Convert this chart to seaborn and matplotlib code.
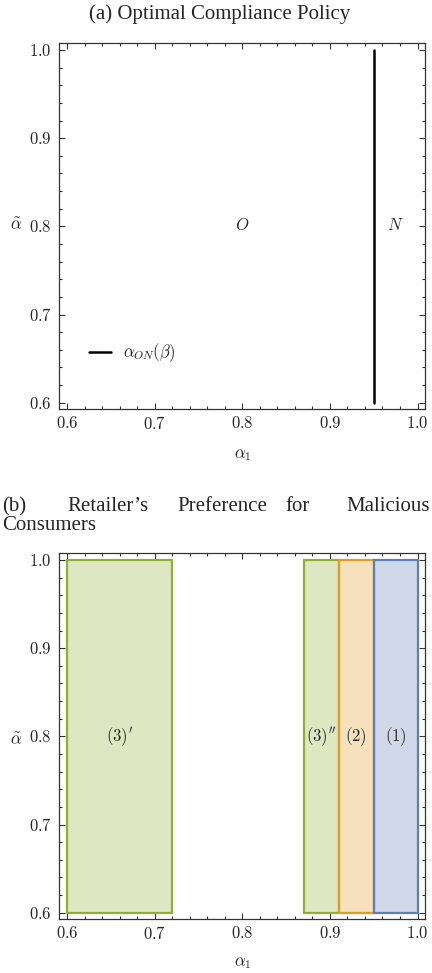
import matplotlib
matplotlib.use("Agg")
import matplotlib.pyplot as plt
import seaborn as sns
import pandas as pd
import numpy as np
from matplotlib.ticker import MultipleLocator, FuncFormatter

# ---- data ----
threshold_x = [0.95, 0.95]
threshold_y = [0.6, 1.0]
region_labels_a = ["$O$", "$N$"]
region_label_x_a = [0.80, 0.975]

rect_labels = ["$(3)'$", "$(3)''$", "$(2)$", "$(1)$"]
rect_left = [0.60, 0.87, 0.91, 0.95]
rect_right = [0.72, 0.91, 0.95, 1.00]
rect_bottom = [0.6, 0.6, 0.6, 0.6]
rect_top = [1.0, 1.0, 1.0, 1.0]
rect_group = ["green", "green", "orange", "blue"]
label_y = 0.8

xticks = [0.6, 0.7, 0.8, 0.9, 1.0]
yticks = [0.6, 0.7, 0.8, 0.9, 1.0]

sns.set_theme(style="ticks")
plt.rcParams["font.family"] = ["Liberation Serif", "DejaVu Serif"]
plt.rcParams["mathtext.fontset"] = "cm"

edge_cols = {"green": "#8FB032", "orange": "#E19C24", "blue": "#5E81B5"}

W, H = 432, 973
fig = plt.figure(figsize=(W / 100, H / 100), dpi=100)


def px_axes(left, top, right, bottom):
    return fig.add_axes([left / W, 1 - bottom / H, (right - left) / W, (bottom - top) / H])


def style_axes(ax, ylo, yhi):
    ax.set_xlim(0.5909, 1.0085)
    ax.set_ylim(ylo, yhi)
    ax.set_xticks(xticks)
    ax.set_yticks(yticks)
    ax.xaxis.set_minor_locator(MultipleLocator(0.02))
    ax.yaxis.set_minor_locator(MultipleLocator(0.02))
    fmt = FuncFormatter(lambda v, p: "$%.1f$" % v)
    ax.xaxis.set_major_formatter(fmt)
    ax.yaxis.set_major_formatter(fmt)
    ax.tick_params(which="both", direction="in", top=True, right=True,
                   labeltop=False, labelright=False, color="#333333", width=0.8)
    ax.tick_params(which="major", length=4.5, labelsize=12, pad=5)
    ax.tick_params(which="minor", length=2.5)
    for s in ax.spines.values():
        s.set_visible(True)
        s.set_linewidth(0.9)
        s.set_color("#333333")
    ax.set_xlabel("")
    ax.set_ylabel("")


# ---- panel (a) ----
ax1 = px_axes(59, 43, 425, 409)
df_line = pd.DataFrame({"x": threshold_x, "y": threshold_y})
sns.lineplot(data=df_line, x="x", y="y", ax=ax1, color="black", linewidth=1.8,
             sort=False, estimator=None, label=r"$\alpha_{ON}(\beta)$")
style_axes(ax1, 0.5928, 1.008)
for lab, xv in zip(region_labels_a, region_label_x_a):
    ax1.text(xv, 0.8, lab, ha="center", va="center", fontsize=12)
leg = ax1.legend(loc="center left", bbox_to_anchor=(0.082, 0.153), frameon=False,
                 fontsize=12, handlelength=1.3, handletextpad=0.75, borderpad=0,
                 borderaxespad=0)

fig.text(220 / W, 1 - 14 / H, "(a) Optimal Compliance Policy", ha="center",
         va="center", fontsize=15)
fig.text(16 / W, 1 - 226 / H, r"$\tilde{\alpha}$", ha="center", va="center", fontsize=12)
fig.text(243 / W, 1 - 455 / H, r"$\alpha_1$", ha="center", va="center", fontsize=12)

# ---- panel (b) ----
ax2 = px_axes(59, 553, 425, 919)
df_rect = pd.DataFrame({"left": rect_left, "right": rect_right,
                        "bottom": rect_bottom, "top": rect_top, "group": rect_group})
for _, r in df_rect.iterrows():
    ec = edge_cols[r["group"]]
    ax2.bar(r["left"], r["top"] - r["bottom"], width=r["right"] - r["left"],
            bottom=r["bottom"], align="edge", color=ec, alpha=0.3, linewidth=0, zorder=2)
    ax2.bar(r["left"], r["top"] - r["bottom"], width=r["right"] - r["left"],
            bottom=r["bottom"], align="edge", fill=False, edgecolor=ec,
            linewidth=1.6, zorder=3)
for lab, l, rr in zip(rect_labels, rect_left, rect_right):
    ax2.text((l + rr) / 2, label_y, lab, ha="center", va="center", fontsize=12, zorder=4)
style_axes(ax2, 0.5928, 1.008)

title_words = ["(b)", "Retailer\u2019s", "Preference", "for"]
title_xs = [2, 67, 177, 285]
for w, xp in zip(title_words, title_xs):
    fig.text(xp / W, 1 - 507 / H, w, ha="left", va="center", fontsize=15)
fig.text(430 / W, 1 - 507 / H, "Malicious", ha="right", va="center", fontsize=15)
fig.text(2 / W, 1 - 526 / H, "Consumers", ha="left", va="center", fontsize=15)
fig.text(16 / W, 1 - 741 / H, r"$\tilde{\alpha}$", ha="center", va="center", fontsize=12)
fig.text(243 / W, 1 - 963 / H, r"$\alpha_1$", ha="center", va="center", fontsize=12)

fig.savefig("out.png", dpi=100)
